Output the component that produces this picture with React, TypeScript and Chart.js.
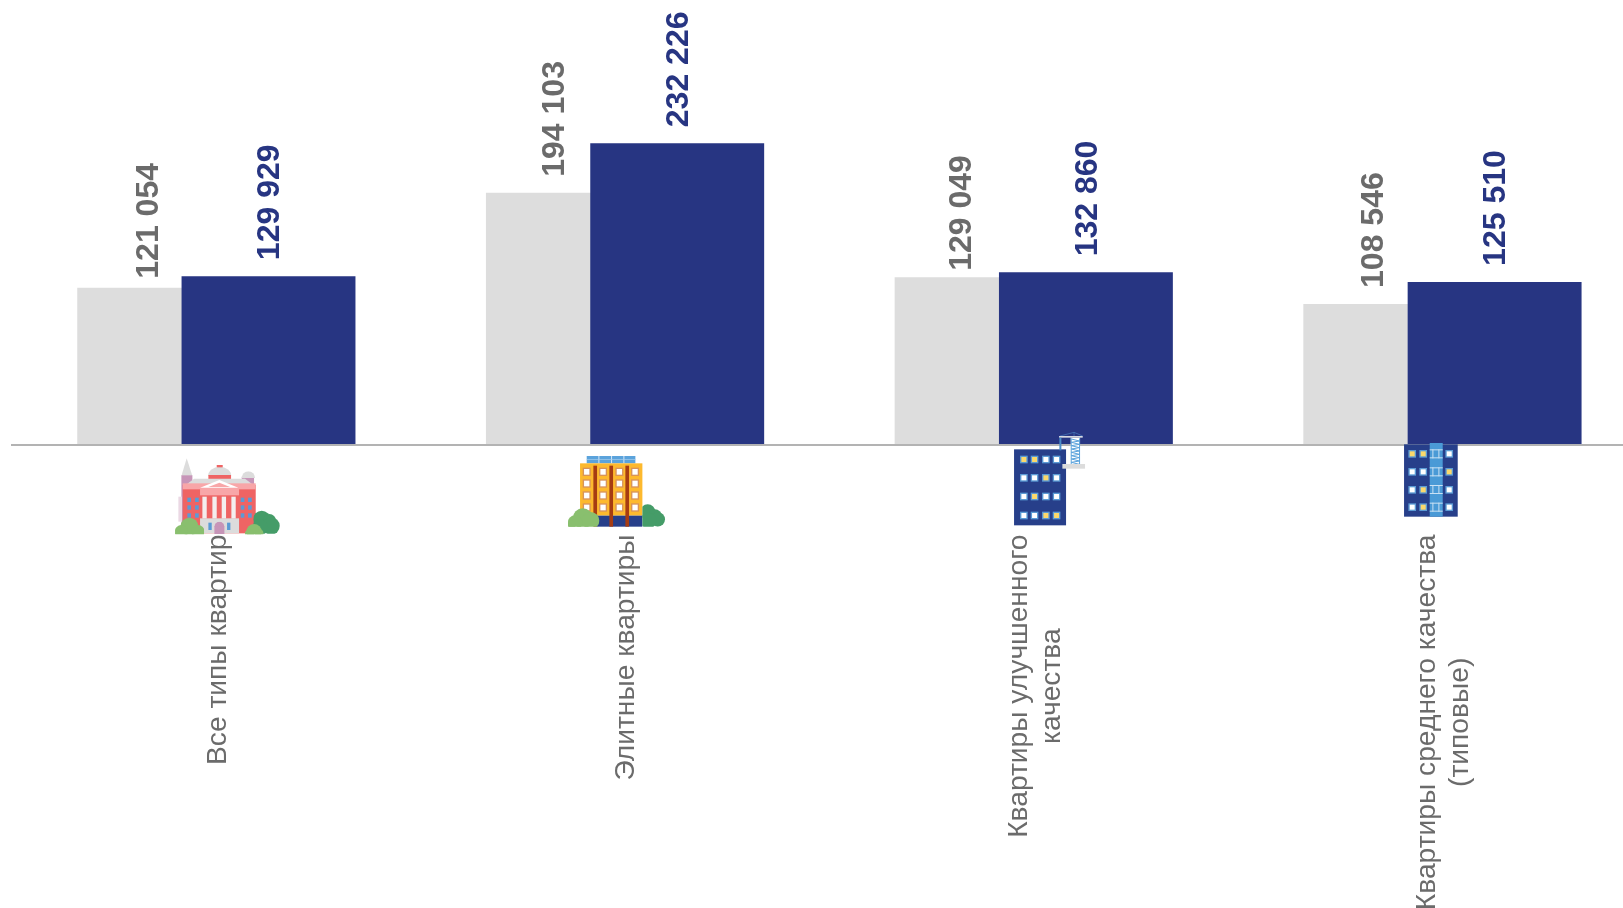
import React, { useEffect, useRef } from "react";
import { Chart, registerables } from "chart.js";

Chart.register(...registerables);

const categories: (string | string[])[] = [
  "Все типы квартир",
  "Элитные квартиры",
  ["Квартиры улучшенного", "качества"],
  ["Квартиры среднего качества", "(типовые)"],
];
const previousValues = [121054, 194103, 129049, 108546];
const currentValues = [129929, 232226, 132860, 125510];
const previousLabelGaps = [9, 16, 6.5, 16];
const previousLabelShifts = [-15, -18, -19, -16];

const GRAY = "#DDDDDD";
const NAVY = "#273582";
const LABEL_GRAY = "#6B6B6B";
const FONT = '"Liberation Sans", Arial, sans-serif';
const TICK_SIZE = 28.2;
const TICK_LINE = 33;

const fmt = (v: number) =>
  `${Math.floor(v / 1000)} ${String(v % 1000).padStart(3, "0")}`;

// Centre multi-line rotated tick labels on their tick and on each other
const centreTickLines = {
  id: "centreTickLines",
  beforeDraw(chart: any) {
    const ctx = chart.ctx;
    const items = chart.scales.x.getLabelItems();
    for (const it of items) {
      if (it.__done) continue;
      it.__done = true;
      const lines: string[] = Array.isArray(it.label) ? it.label : [it.label];
      it.textOffset -= ((lines.length - 1) * TICK_LINE) / 2 - 1.5;
      ctx.save();
      ctx.font = it.font.string;
      const longest = Math.max(...lines.map((l) => ctx.measureText(l).width));
      ctx.restore();
      it.options.textAlign = "center";
      it.options.translation = [it.options.translation[0], it.options.translation[1] + longest / 2];
    }
  },
};

const valueLabels = {
  id: "valueLabels",
  afterDatasetsDraw(chart: any) {
    const ctx = chart.ctx;
    const draw = (datasetIndex: number, values: number[], color: string, dxs: number[] | number, gaps: number[] | number) => {
      chart.getDatasetMeta(datasetIndex).data.forEach((bar: any, i: number) => {
        const gap = Array.isArray(gaps) ? gaps[i] : gaps;
        const dx = Array.isArray(dxs) ? dxs[i] : dxs;
        ctx.save();
        ctx.translate(bar.x + dx, bar.y - gap);
        ctx.rotate(-Math.PI / 2);
        ctx.font = `bold 32px ${FONT}`;
        ctx.fillStyle = color;
        ctx.textAlign = "left";
        ctx.textBaseline = "middle";
        ctx.fillText(fmt(values[i]), 0, 0);
        ctx.restore();
      });
    };
    draw(2, previousValues, LABEL_GRAY, previousLabelShifts, previousLabelGaps);
    draw(1, currentValues, NAVY, 2, 16);
  },
};

type Ctx = CanvasRenderingContext2D;
const rect = (c: Ctx, col: string, x0: number, y0: number, x1: number, y1: number) => {
  c.fillStyle = col;
  c.fillRect(x0, y0, x1 - x0, y1 - y0);
};
const poly = (c: Ctx, col: string, pts: number[]) => {
  c.fillStyle = col;
  c.beginPath();
  c.moveTo(pts[0], pts[1]);
  for (let i = 2; i < pts.length; i += 2) c.lineTo(pts[i], pts[i + 1]);
  c.closePath();
  c.fill();
};
const blob = (c: Ctx, col: string, circles: number[][], base: number[]) => {
  c.save();
  c.beginPath();
  c.rect(base[0], 0, base[1] - base[0], base[2]);
  c.clip();
  c.fillStyle = col;
  for (const [x, y, r] of circles) {
    c.beginPath();
    c.arc(x, y, r, 0, Math.PI * 2);
    c.fill();
  }
  c.restore();
};
const ell = (c: Ctx, col: string, x: number, y: number, rx: number, ry: number, clipY?: number) => {
  c.save();
  if (clipY !== undefined) {
    c.beginPath();
    c.rect(x - rx, y - ry, rx * 2, clipY - (y - ry));
    c.clip();
  }
  c.fillStyle = col;
  c.beginPath();
  c.ellipse(x, y, rx, ry, 0, 0, Math.PI * 2);
  c.fill();
  c.restore();
};

const C_GREY = "#DCDCDC";
const C_PINK = "#C795B8";
const C_RED = "#EF6464";
const C_LPINK = "#F8A6A8";
const C_WIN = "#5B9BD5";
const C_DGREEN = "#459C68";
const C_LGREEN = "#89BF6E";
const C_NAVY2 = "#273F8A";
const C_YEL = "#FCD96B";
const C_STEEL = "#4A9AD6";

function palace(c: Ctx) {
  poly(c, C_GREY, [50, 25, 34, 78, 67, 78]);
  rect(c, C_PINK, 34, 76, 67, 232);
  rect(c, "#EBD8E4", 25, 140, 36, 215);
  rect(c, C_PINK, 215, 80, 252, 102);
  ell(c, C_GREY, 235, 84, 20, 20, 84);
  ell(c, C_GREY, 149, 78, 35, 28, 78);
  rect(c, C_RED, 115, 75, 183, 87);
  rect(c, C_RED, 140, 45, 158, 52);
  poly(c, C_GREY, [40, 110, 72, 86, 225, 86, 257, 110]);
  rect(c, C_RED, 38, 105, 257, 250);
  rect(c, C_LPINK, 38, 100, 257, 118);
  rect(c, C_LPINK, 90, 113, 207, 136);
  poly(c, "#FFFFFF", [90, 113, 148, 90, 205, 113]);
  poly(c, C_LPINK, [115, 111, 148, 98, 180, 111]);
  for (const x of [97, 127, 155, 184]) rect(c, "#F4EEEE", x, 140, x + 13, 206);
  rect(c, C_GREY, 90, 205, 207, 250);
  rect(c, C_PINK, 133, 228, 163, 252);
  ell(c, C_PINK, 148, 230, 15, 15, 230);
  rect(c, C_WIN, 115, 218, 125, 240);
  rect(c, C_WIN, 171, 218, 181, 240);
  for (const y of [143, 166, 190])
    for (const x of [52, 75, 212, 234]) rect(c, C_WIN, x, y, x + 11, y + 13);
  blob(c, C_DGREEN, [[275, 208, 26], [298, 212, 20], [303, 228, 26], [270, 232, 24]], [250, 330, 251]);
  blob(c, C_LGREEN, [[58, 230, 27], [34, 245, 20], [84, 245, 20]], [15, 102, 253]);
  blob(c, C_LGREEN, [[252, 245, 23], [238, 252, 14], [268, 252, 14]], [225, 280, 253]);
}

function tower(c: Ctx) {
  rect(c, "#5BA3DC", 80, 18, 226, 40);
  for (const x of [115, 153, 190]) rect(c, "#D4E6F6", x, 18, x + 3, 40);
  rect(c, "#A9CFEE", 80, 27, 226, 29);
  rect(c, "#FDB92E", 60, 40, 247, 197);
  rect(c, C_NAVY2, 110, 197, 247, 230);
  for (const x of [100, 148, 196]) rect(c, "#A63C12", x, 47, x + 11, 230);
  for (const y of [53, 88, 124, 160])
    for (const x of [68, 117, 166, 213]) {
      rect(c, "#D8945A", x, y, x + 24, y + 25);
      rect(c, "#FFFFFF", x + 4, y + 4, x + 20, y + 21);
    }
  blob(c, C_DGREEN, [[263, 186, 23], [285, 198, 20], [293, 208, 22], [265, 212, 24]], [247, 316, 230]);
  blob(c, C_LGREEN, [[68, 205, 30], [45, 218, 22], [92, 212, 26], [35, 224, 12]], [24, 119, 230]);
}

const windows = (c: Ctx, xs: number[], ys: number[], pattern: string[]) => {
  ys.forEach((y, r) => {
    xs.forEach((x, i) => {
      rect(c, C_WIN, x, y, x + 23, y + 23);
      rect(c, pattern[r][i] === "Y" ? C_YEL : "#FFFFFF", x + 4, y + 4, x + 19, y + 19);
    });
  });
};

function crane(c: Ctx) {
  rect(c, C_NAVY2, 42, 73, 198, 301);
  windows(c, [60, 92, 126, 158], [92, 147, 203, 260], ["YYWW", "WWYW", "WYWW", "WWYY"]);
  rect(c, "#FFFFFF", 212, 38, 240, 117);
  rect(c, "#5BA3DC", 212, 40, 215, 117);
  rect(c, "#5BA3DC", 237, 40, 240, 117);
  c.strokeStyle = "#5BA3DC";
  c.lineWidth = 3;
  c.beginPath();
  for (let y = 42; y < 117; y += 10) {
    c.moveTo(214, y);
    c.lineTo(238, y + 6);
    c.moveTo(238, y + 6);
    c.lineTo(214, y + 10);
  }
  c.stroke();
  c.strokeStyle = "#4A7FC0";
  c.lineWidth = 2;
  c.beginPath();
  c.moveTo(180, 33);
  c.lineTo(222, 22);
  c.lineTo(248, 33);
  c.moveTo(222, 22);
  c.lineTo(222, 33);
  c.stroke();
  rect(c, "#D5D8E2", 177, 33, 248, 38);
  rect(c, "#4A8CC8", 178, 38, 184, 76);
  rect(c, C_GREY, 187, 117, 255, 131);
}

function block(c: Ctx) {
  rect(c, C_NAVY2, 42, 28, 203, 245);
  rect(c, C_STEEL, 119, 24, 158, 245);
  windows(c, [55, 88, 166], [45, 99, 153, 205], ["YYW", "WWY", "WYW", "WYW"]);
  for (const y of [43, 97, 150, 203]) {
    rect(c, "#C9E1F4", 119, y, 158, y + 3);
    rect(c, "#C9E1F4", 119, y + 24, 158, y + 27);
    rect(c, "#C9E1F4", 127, y, 130, y + 27);
    rect(c, "#C9E1F4", 145, y, 148, y + 27);
  }
}

const iconPlugin = {
  id: "icons",
  afterDraw(chart: any) {
    const c: Ctx = chart.ctx;
    const sx = chart.scales.x;
    const base = 444.4;
    const place: [(c: Ctx) => void, number, number, number][] = [
      [palace, 0, -46.3, 5.6],
      [tower, 1, -65, 5.6],
      [crane, 2, -33.7, -19.4],
      [block, 3, -52.4, -9.4],
    ];
    for (const [fn, i, dx, dy] of place) {
      c.save();
      c.translate(sx.getPixelForTick(i) + dx, base + dy);
      c.scale(1 / 3, 1 / 3);
      fn(c);
      c.restore();
    }
  },
};

export default function App() {
  const ref = useRef<HTMLCanvasElement>(null);
  useEffect(() => {
    const chart = new Chart(ref.current as HTMLCanvasElement, {
      type: "bar",
      data: {
        labels: categories as any,
        datasets: [
          { label: "_", data: [], stack: "a", order: 0, backgroundColor: GRAY },
          {
            label: "current",
            data: currentValues,
            stack: "b",
            order: 1,
            backgroundColor: NAVY,
            categoryPercentage: 0.5105,
            barPercentage: 1.667,
          },
          {
            label: "previous",
            data: previousValues,
            stack: "a",
            order: 2,
            backgroundColor: GRAY,
            categoryPercentage: 0.5105,
            barPercentage: 1.667,
          },
        ],
      },
      options: {
        animation: false,
        responsive: false,
        layout: { padding: { left: 12, right: 13.2, top: 0, bottom: 0 } },
        plugins: { legend: { display: false }, tooltip: { enabled: false } },
        scales: {
          y: { display: false, min: 0, max: 342400 },
          x: {
            grid: { display: false },
            border: { display: true, color: "#B3B3B3", width: 2, z: 1 },
            afterFit(scale: any) {
              scale.height = 908 - 445;
              scale.paddingLeft = 0;
              scale.paddingRight = 0;
            },
            ticks: {
              autoSkip: false,
              minRotation: 90,
              maxRotation: 90,
              padding: 81.5,
              color: LABEL_GRAY,
              font: { family: FONT, size: TICK_SIZE, lineHeight: TICK_LINE / TICK_SIZE },
            },
          },
        },
      },
      plugins: [centreTickLines, valueLabels, iconPlugin],
    } as any);
    return () => chart.destroy();
  }, []);
  return (
    <div style={{ position: "absolute", left: 0, top: 0, width: 1623, height: 908, overflow: "hidden", background: "#fff" }}>
      <canvas ref={ref} width={1660} height={908} style={{ display: "block" }} />
    </div>
  );
}
